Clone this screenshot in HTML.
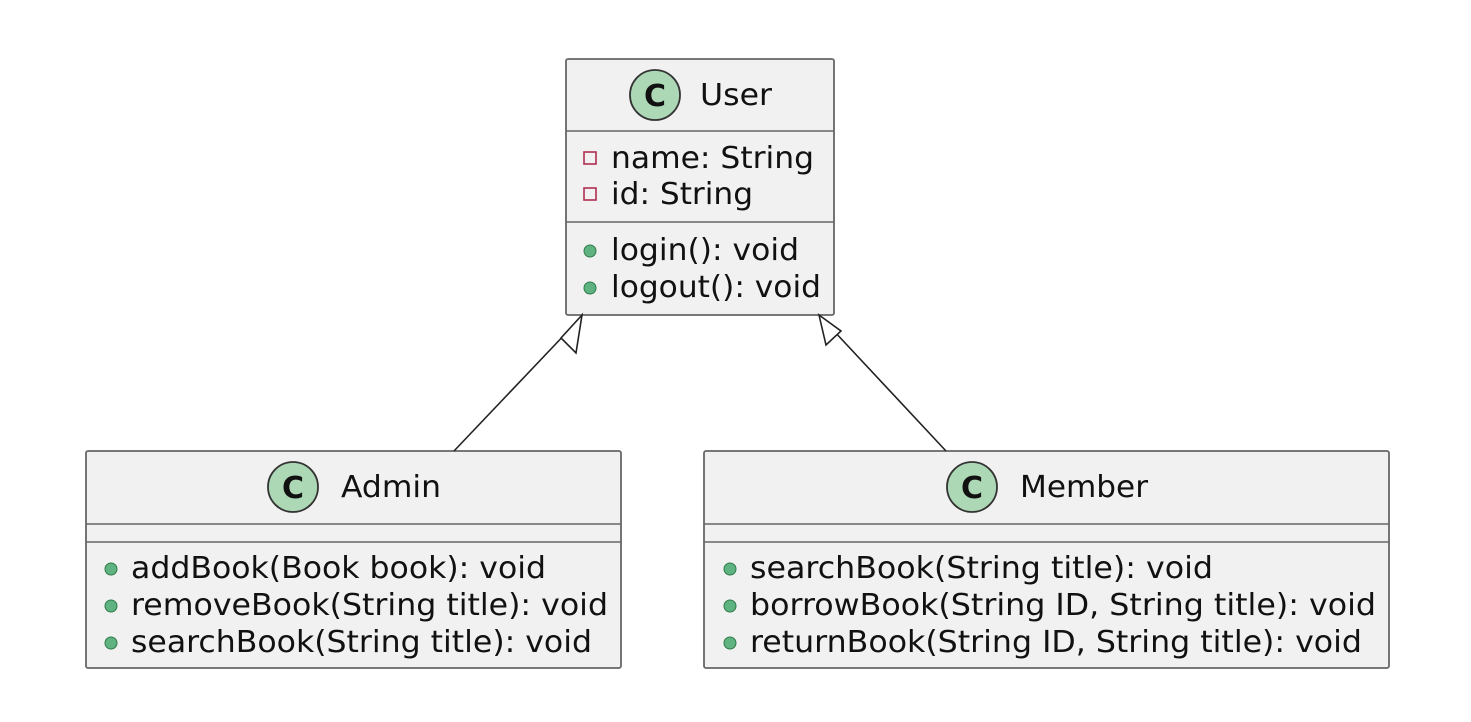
<!DOCTYPE html>
<html><head><meta charset="utf-8"><style>
body{margin:0;background:#fff;width:1471px;height:717px;overflow:hidden}
svg text{font-family:"DejaVu Sans","Liberation Sans",sans-serif;fill:#111}
</style></head><body>
<svg width="1471" height="717" viewBox="0 0 1471 717" xmlns="http://www.w3.org/2000/svg">
<g stroke="#666" stroke-width="1.8" fill="#f1f1f1">
<rect x="566" y="59" width="268" height="256" rx="2"/>
<rect x="86" y="451" width="535" height="217" rx="2"/>
<rect x="704" y="451" width="685" height="217" rx="2"/>
</g>
<g stroke="#666" stroke-width="1.6">
<line x1="566" y1="131" x2="834" y2="131"/><line x1="566" y1="222" x2="834" y2="222"/>
<line x1="86" y1="524" x2="621" y2="524"/><line x1="86" y1="542" x2="621" y2="542"/>
<line x1="704" y1="524" x2="1389" y2="524"/><line x1="704" y1="542" x2="1389" y2="542"/>
</g>
<g stroke="#222" stroke-width="1.6" fill="none">
<line x1="454" y1="451" x2="569" y2="330"/>
<polygon points="582,315 561,338 576,353" fill="#fff"/>
<line x1="946" y1="451" x2="833" y2="330"/>
<polygon points="819,315 826,345 841,331" fill="#fff"/>
</g>
<g fill="#add8b6" stroke="#333" stroke-width="1.8">
<circle cx="655" cy="95" r="25"/><circle cx="293" cy="487" r="25"/><circle cx="972" cy="487" r="25"/>
</g>
<g font-weight="bold" font-size="30" text-anchor="middle">
<text x="655" y="106">C</text><text x="293" y="498">C</text><text x="972" y="498">C</text>
</g>
<g font-size="30" lengthAdjust="spacingAndGlyphs">
<text x="700" y="105" textLength="72" lengthAdjust="spacingAndGlyphs">User</text>
<text x="341" y="497" textLength="100" lengthAdjust="spacingAndGlyphs">Admin</text>
<text x="1020" y="497" textLength="128" lengthAdjust="spacingAndGlyphs">Member</text>
<text x="611" y="168" textLength="203" lengthAdjust="spacingAndGlyphs">name: String</text>
<text x="611" y="204" textLength="142" lengthAdjust="spacingAndGlyphs">id: String</text>
<text x="611" y="260" textLength="188" lengthAdjust="spacingAndGlyphs">login(): void</text>
<text x="611" y="297" textLength="210" lengthAdjust="spacingAndGlyphs">logout(): void</text>
<text x="131" y="578" textLength="415" lengthAdjust="spacingAndGlyphs">addBook(Book book): void</text>
<text x="131" y="615" textLength="477" lengthAdjust="spacingAndGlyphs">removeBook(String title): void</text>
<text x="131" y="652" textLength="461" lengthAdjust="spacingAndGlyphs">searchBook(String title): void</text>
<text x="750" y="578" textLength="463" lengthAdjust="spacingAndGlyphs">searchBook(String title): void</text>
<text x="750" y="615" textLength="626" lengthAdjust="spacingAndGlyphs">borrowBook(String ID, String title): void</text>
<text x="750" y="652" textLength="612" lengthAdjust="spacingAndGlyphs">returnBook(String ID, String title): void</text>
</g>
<g fill="none" stroke="#b03050" stroke-width="1.6">
<rect x="584" y="152" width="12" height="12"/><rect x="584" y="188" width="12" height="12"/>
</g>
<g fill="#5fb380" stroke="#2f7a4a" stroke-width="1">
<circle cx="590" cy="251" r="6"/><circle cx="590" cy="288" r="6"/>
<circle cx="111" cy="569" r="6"/><circle cx="111" cy="606" r="6"/><circle cx="111" cy="643" r="6"/>
<circle cx="730" cy="569" r="6"/><circle cx="730" cy="606" r="6"/><circle cx="730" cy="643" r="6"/>
</g>
</svg>
</body></html>
